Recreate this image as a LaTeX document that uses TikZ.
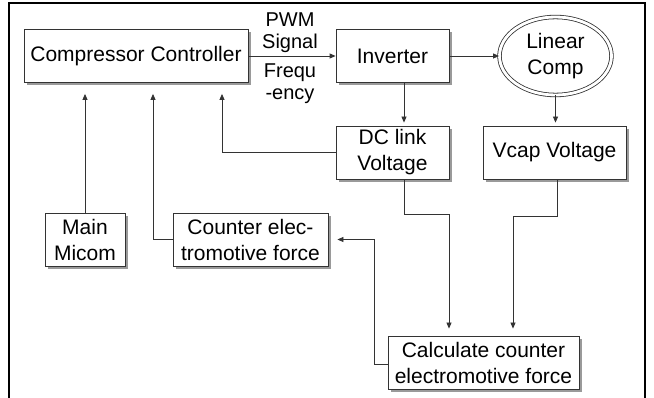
\documentclass[tikz,border=0pt]{standalone}
\usepackage{fontspec}
\setmainfont{Liberation Sans}
\usetikzlibrary{arrows.meta,shapes.geometric,shadows,calc}
\definecolor{linec}{HTML}{333333}
\definecolor{shadc}{HTML}{9A9A9A}
\begin{document}
\begin{tikzpicture}[x=1pt,y=-1pt,
  box/.style={draw=linec, line width=0.8pt, fill=white, inner sep=2pt,
    align=center, font=\fontsize{21}{26}\selectfont,
    drop shadow={shadow xshift=2.6pt, shadow yshift=-2.6pt, fill=shadc, opacity=1}},
  lbl/.style={align=center, inner sep=0pt, font=\fontsize{20}{22}\selectfont},
  arr/.style={draw=linec, line width=0.8pt, -{Triangle[length=6pt,width=5pt]}},
  con/.style={draw=linec, line width=0.8pt}]
\useasboundingbox (0,0) rectangle (654,398);
\clip (0,0) rectangle (654,398);
% frame
\draw[line width=1.6pt] (9,405) -- (9,3) -- (645,3) -- (645,405);
% nodes
\node[box, minimum width=224pt, minimum height=53pt] (cc) at (136,56) {Compressor Controller};
\node[box, minimum width=113pt, minimum height=53pt] (inv) at (392.5,56) {Inverter};
\node[draw=linec, line width=0.8pt, double, double distance=2.8pt, ellipse,
      minimum width=112pt, minimum height=78pt, inner sep=0pt, align=center,
      font=\fontsize{21}{26}\selectfont] (lc) at (555.5,56) {Linear\\Comp};
\node[box, minimum width=113pt, minimum height=53pt] (dc) at (392.5,152.5) {DC link\\Voltage};
\node[box, minimum width=143pt, minimum height=53pt] (vc) at (554.5,152.5) {Vcap Voltage};
\node[box, minimum width=80pt, minimum height=53pt] (mm) at (85,239.5) {Main\\Micom};
\node[box, minimum width=155pt, minimum height=53pt] (ce) at (250.5,239.5) {Counter elec-\\tromotive force};
\node[box, minimum width=191pt, minimum height=53pt] (calc) at (483.5,362.5) {Calculate counter\\electromotive force};
% labels
\node[lbl] (pwm) at (290,33) {PWM\\Signal};
\node[lbl] (frq) at (290,84) {Frequ\\-ency};
% helper coordinates
\coordinate (ccb) at ([yshift=-11pt]cc.south);
% connectors
\draw[arr] (cc.east) -- (inv.west);
\draw[arr] (inv.east) -- (lc.west);
\draw[arr] ([xshift=11.5pt]inv.south) -- ([xshift=11.5pt,yshift=3pt]dc.north);
\draw[arr] (lc.south) -- ([yshift=3pt]vc.north -| lc.south);
\draw[arr] (dc.west) -| ([xshift=86pt]ccb);
\draw[arr] (mm.north) -- (mm.north |- ccb);
\draw[arr] (ce.west) -| ([xshift=17pt]ccb);
\draw[arr] ([xshift=11.5pt]dc.south) -- ++(0,-35pt) -| ([xshift=-34.5pt,yshift=7pt]calc.north);
\draw[arr] ([xshift=2.5pt]vc.south) -- ++(0,-37pt) -| ([xshift=29.5pt,yshift=7pt]calc.north);
\draw[arr] ([yshift=-1.5pt]calc.west) -- ++(-13pt,0) |- ([xshift=9pt]ce.east);
\end{tikzpicture}
\end{document}
